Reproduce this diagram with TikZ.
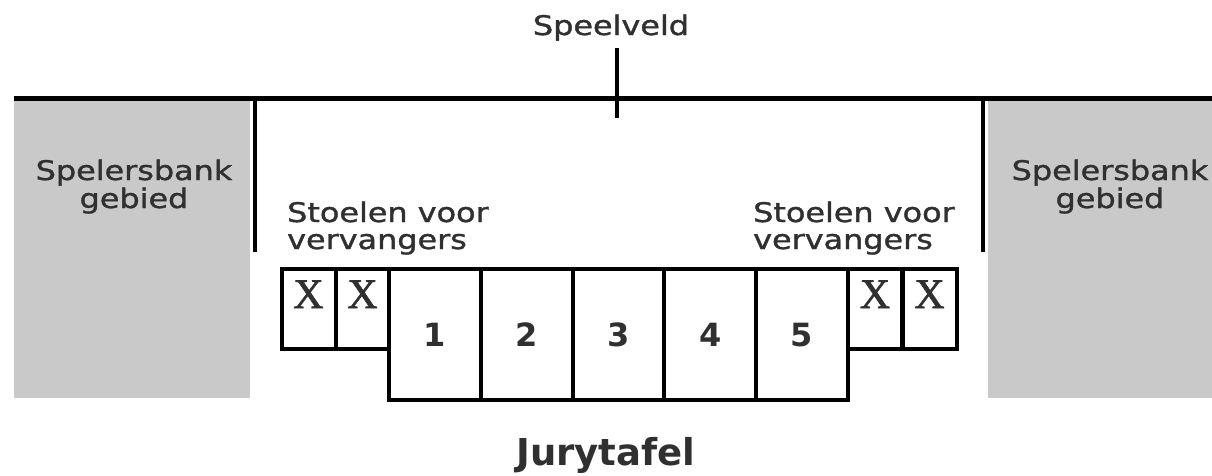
\documentclass[tikz,border=0pt]{standalone}
\usepackage{fontspec}
\setmainfont{DejaVu Sans}
\newfontfamily\labelfont[FakeBold=1.2]{DejaVu Sans}
\newfontfamily\seatfont[FakeBold=1.5]{Liberation Serif}
\usepackage{graphicx}
\definecolor{benchgray}{HTML}{C9C9C9}
\definecolor{ink}{HTML}{303030}
\newcommand\widetext[1]{\scalebox{1.18}[1]{#1}}
\begin{document}
\begin{tikzpicture}[x=1pt,y=-1pt,
  wall/.style={line width=5pt,black},
  lbl/.style={text=ink,inner sep=0pt,font=\labelfont\fontsize{27}{27}\selectfont},
  seat/.style={draw=black,line width=4pt,fill=white,inner sep=0pt,minimum width=54pt,minimum height=80pt},
  jury/.style={draw=black,line width=4pt,fill=white,inner sep=0pt,minimum width=91.8pt,minimum height=131pt},
  seatmark/.style={inner sep=0pt,text=ink,font=\seatfont\fontsize{42}{42}\selectfont},
  num/.style={inner sep=0pt,text=ink,font=\bfseries\fontsize{32}{32}\selectfont}]
\useasboundingbox[fill=white] (0,0) rectangle (1212,475);

% bench areas
\fill[benchgray] (14,98) rectangle (250,398);
\fill[benchgray] (988,98) rectangle (1212,398);

% side line of the court and the marks
\coordinate (lineL) at (14,98);
\coordinate (lineR) at (1212,98);
\draw[wall] (lineL) -- (lineR);
\coordinate (mid) at (617,118);
\coordinate (midtop) at (617,48);
\draw[line width=4pt] (midtop) -- (mid);
\coordinate (zl) at (255,96);
\coordinate (zlb) at (255,252);
\draw[line width=4pt] (zl) -- (zlb);
\coordinate (zr) at (983,96);
\coordinate (zrb) at (983,252);
\draw[line width=4pt] (zr) -- (zrb);

% labels
\node[lbl,anchor=base] (speelveld) at (611,35) {\widetext{Speelveld}};
\node[lbl,anchor=base] (benchL1) at (134,180) {\widetext{Spelersbank}};
\node[lbl,anchor=base] (benchL2) at (134,208) {\widetext{gebied}};
\node[lbl,anchor=base] (benchR1) at (1110,180) {\widetext{Spelersbank}};
\node[lbl,anchor=base] (benchR2) at (1110,208) {\widetext{gebied}};
\node[lbl,anchor=base west] (subL1) at (287,222) {\widetext{Stoelen voor}};
\node[lbl,anchor=base west] (subL2) at (287,249) {\widetext{vervangers}};
\node[lbl,anchor=base west] (subR1) at (753,222) {\widetext{Stoelen voor}};
\node[lbl,anchor=base west] (subR2) at (753,249) {\widetext{vervangers}};

% substitute chairs
\node[seat] (sl1) at (308.5,309) {};
\node[seat] (sl2) at (362.5,309) {};
\node[seat] (sr1) at (875,309) {};
\node[seat] (sr2) at (929.5,309) {};
\foreach \s in {sl1,sl2,sr1,sr2}
  \node[seatmark,anchor=base] at ([yshift=-41pt]\s.north) {X};

% scorer's table
\foreach \i/\cx in {1/434.9,2/526.7,3/618.5,4/710.3,5/802.1}{
  \node[jury] (t\i) at (\cx,334.5) {};
  \node[num,anchor=base] (n\i) at ([yshift=-12pt]t\i.center) {\i};
}

\node[anchor=base,inner sep=0pt,text=ink,font=\bfseries\fontsize{37}{37}\selectfont] (jurytafel) at (606,465) {Jurytafel};
\end{tikzpicture}
\end{document}
